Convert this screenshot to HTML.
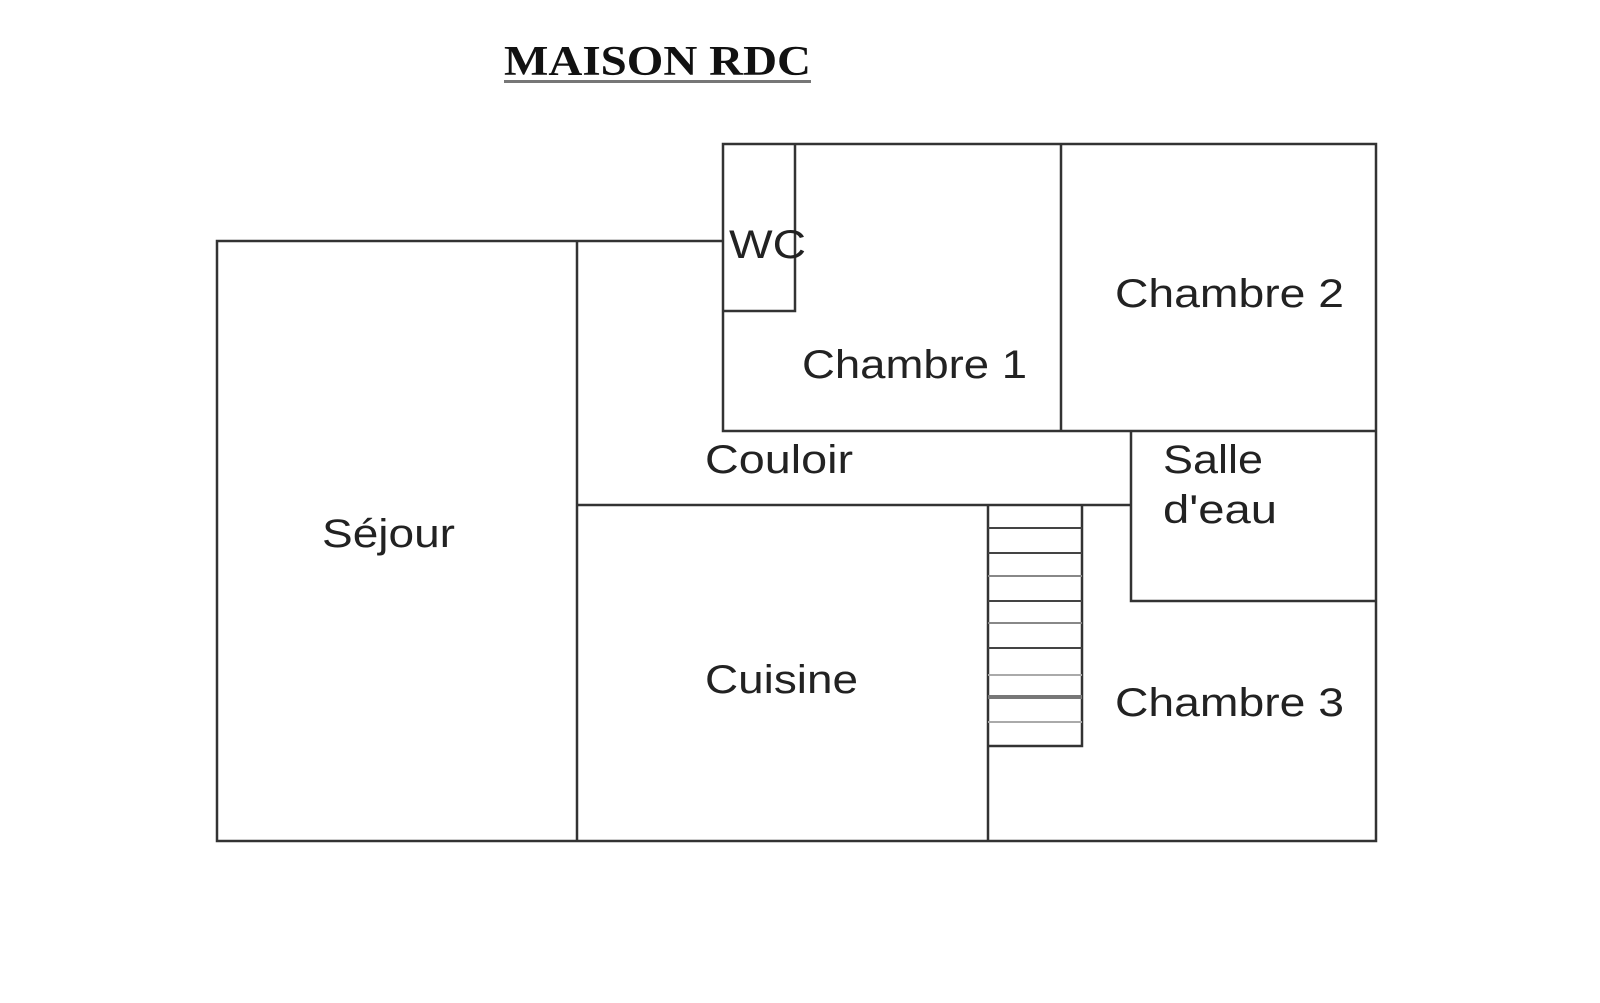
<!DOCTYPE html>
<html><head><meta charset="utf-8"><style>body{margin:0;background:#fff}svg{display:block}</style></head>
<body>
<svg width="1600" height="1003" viewBox="0 0 1600 1003" xmlns="http://www.w3.org/2000/svg">
<rect width="1600" height="1003" fill="#fff"/>
<text x="504" y="75" font-family="Liberation Serif, serif" font-weight="bold" font-size="42" textLength="307" lengthAdjust="spacingAndGlyphs" fill="#111">MAISON RDC</text>
<rect x="504" y="80" width="307" height="3" fill="#777"/>
<g stroke="#333" stroke-width="2.5" fill="none">
<polyline points="723,241 217,241 217,841 1376,841 1376,144 723,144 723,431 1376,431"/>
<line x1="577" y1="241" x2="577" y2="841"/>
<line x1="1061" y1="144" x2="1061" y2="431"/>
<polyline points="795,144 795,311 723,311"/>
<line x1="577" y1="505" x2="1131" y2="505"/>
<polyline points="1131,431 1131,601 1376,601"/>
<line x1="988" y1="505" x2="988" y2="841"/>
<polyline points="1082,505 1082,746 988,746"/>
</g>
<g stroke="#444" stroke-width="2">
<line x1="988" y1="528" x2="1082" y2="528"/>
<line x1="988" y1="553" x2="1082" y2="553"/>
<line x1="988" y1="576" x2="1082" y2="576" stroke="#888"/>
<line x1="988" y1="601" x2="1082" y2="601"/>
<line x1="988" y1="623" x2="1082" y2="623" stroke="#888"/>
<line x1="988" y1="648" x2="1082" y2="648"/>
<line x1="988" y1="675" x2="1082" y2="675" stroke="#aaa"/>
<line x1="988" y1="697" x2="1082" y2="697" stroke="#777" stroke-width="4"/>
<line x1="988" y1="722" x2="1082" y2="722" stroke="#aaa"/>
</g>
<g font-family="Liberation Sans, sans-serif" font-size="40" fill="#222" lengthAdjust="spacingAndGlyphs">
<text x="729" y="258" textLength="77" lengthAdjust="spacingAndGlyphs">WC</text>
<text x="802" y="378" textLength="225" lengthAdjust="spacingAndGlyphs">Chambre 1</text>
<text x="1115" y="307" textLength="229" lengthAdjust="spacingAndGlyphs">Chambre 2</text>
<text x="705" y="473" textLength="148" lengthAdjust="spacingAndGlyphs">Couloir</text>
<text x="1163" y="473" textLength="100" lengthAdjust="spacingAndGlyphs">Salle</text>
<text x="1163" y="523" textLength="114" lengthAdjust="spacingAndGlyphs">d'eau</text>
<text x="322" y="547" textLength="133" lengthAdjust="spacingAndGlyphs">Séjour</text>
<text x="705" y="693" textLength="153" lengthAdjust="spacingAndGlyphs">Cuisine</text>
<text x="1115" y="716" textLength="229" lengthAdjust="spacingAndGlyphs">Chambre 3</text>
</g>
</svg>
</body></html>
